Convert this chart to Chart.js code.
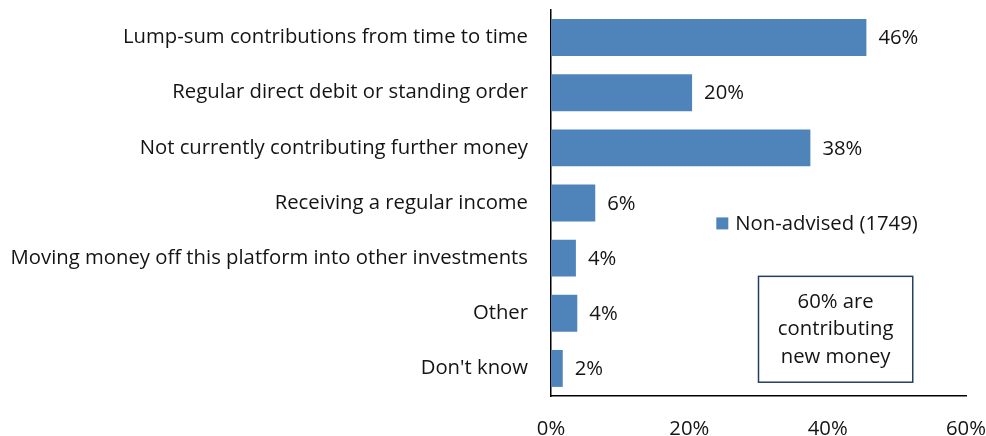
<!DOCTYPE html>
<html>
<head>
<meta charset="utf-8">
<script src="https://cdn.jsdelivr.net/npm/chart.js@4/dist/chart.umd.min.js"></script>
<style>
  html, body { margin: 0; padding: 0; background: #fff; }
  #wrap { width: 986px; height: 436px; position: relative; }
</style>
</head>
<body>
<div id="wrap"><canvas id="chart"></canvas></div>
<script>
const categories = [
  "Lump-sum contributions from time to time",
  "Regular direct debit or standing order",
  "Not currently contributing further money",
  "Receiving a regular income",
  "Moving money off this platform into other investments",
  "Other",
  "Don't know"
];
const nonAdvised = [45.6, 20.4, 37.5, 6.4, 3.6, 3.8, 1.7];
const seriesLabel = "Non-advised (1749)";
const xTicks = [0, 20, 40, 60];
const noteLines = ["60% are", "contributing", "new money"];

const FONT = "Open Sans";
const FSIZE = 20.3;
const TEXT = "#141414";
const BAR = "#4f84bb";

function noPad(s) {
  s.paddingLeft = 0; s.paddingRight = 0; s.paddingTop = 0; s.paddingBottom = 0;
}

// value labels at the end of each bar
const barLabels = {
  id: "barLabels",
  afterDatasetsDraw(chart) {
    const ctx = chart.ctx;
    const meta = chart.getDatasetMeta(0);
    ctx.save();
    ctx.font = FSIZE + "px " + FONT;
    ctx.fillStyle = TEXT;
    ctx.textAlign = "left";
    ctx.textBaseline = "middle";
    meta.data.forEach((bar, i) => {
      ctx.fillText(Math.round(nonAdvised[i]) + "%", bar.x + 12, bar.y + 1);
    });
    ctx.restore();
  }
};

// legend and the note box, placed inside the plot with the scales
const extras = {
  id: "extras",
  afterDraw(chart) {
    const ctx = chart.ctx;
    const x = chart.scales.x, y = chart.scales.y;
    ctx.save();

    // legend
    const lx = x.getPixelForValue(23.9);
    const ly = y.getPixelForValue(3.37);
    ctx.fillStyle = BAR;
    ctx.fillRect(lx, ly - 6, 12, 12);
    ctx.fillStyle = TEXT;
    ctx.font = FSIZE + "px " + FONT;
    ctx.textAlign = "left";
    ctx.textBaseline = "middle";
    ctx.fillText(chart.data.datasets[0].label, lx + 19, ly + 1);

    // note box
    const bx0 = x.getPixelForValue(30), bx1 = x.getPixelForValue(52.3);
    const by0 = y.getPixelForValue(4.33), by1 = y.getPixelForValue(6.25);
    ctx.strokeStyle = "#243f60";
    ctx.lineWidth = 1.5;
    ctx.strokeRect(bx0, by0, bx1 - bx0, by1 - by0);
    ctx.textAlign = "center";
    const cx = (bx0 + bx1) / 2, cy = (by0 + by1) / 2;
    noteLines.forEach((t, i) => {
      ctx.fillText(t, cx, cy + (i - 1) * 27.5);
    });
    ctx.restore();
  }
};

new Chart(document.getElementById("chart"), {
  type: "bar",
  data: {
    labels: categories,
    datasets: [{
      label: seriesLabel,
      data: nonAdvised,
      backgroundColor: BAR,
      categoryPercentage: 1,
      barPercentage: 0.67
    }]
  },
  options: {
    indexAxis: "y",
    responsive: true,
    maintainAspectRatio: false,
    animation: false,
    layout: { padding: { top: 10, right: 20, left: 0, bottom: 0 } },
    plugins: { legend: { display: false }, tooltip: { enabled: false } },
    scales: {
      x: {
        min: 0,
        max: 60,
        afterBuildTicks(s) { s.ticks = xTicks.map(v => ({ value: v })); },
        afterFit(s) { s.height = 40; noPad(s); },
        ticks: {
          callback: v => v + "%",
          color: TEXT,
          padding: 21,
          maxRotation: 0,
          font: { family: FONT, size: FSIZE }
        },
        grid: { display: false, drawTicks: false },
        border: { display: true, color: "#000", width: 1.5 }
      },
      y: {
        afterFit(s) { s.width = 551; noPad(s); },
        ticks: {
          color: TEXT,
          padding: 23,
          font: { family: FONT, size: FSIZE }
        },
        grid: { display: false, drawTicks: false },
        border: { display: true, color: "#000", width: 1.5 }
      }
    }
  },
  plugins: [barLabels, extras]
});
</script>
</body>
</html>
